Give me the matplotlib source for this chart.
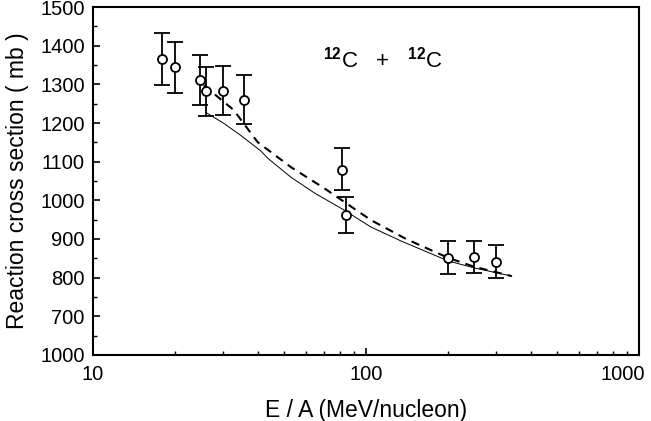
import matplotlib
matplotlib.use("Agg")
import matplotlib.pyplot as plt
import matplotlib.transforms as mtransforms
from matplotlib.ticker import MultipleLocator, FixedLocator, LogLocator, NullFormatter

plt.rcParams["font.family"] = ["Liberation Sans", "DejaVu Sans"]
plt.rcParams["mathtext.fontset"] = "custom"
plt.rcParams["mathtext.rm"] = "Liberation Sans"
plt.rcParams["mathtext.bf"] = "Liberation Sans:bold"

# measured points
energy = [17.9, 19.9, 24.7, 25.8, 29.8, 35.6, 81.7, 84.4, 200, 249, 300]
sigma = [1365, 1345, 1311, 1283, 1283, 1259, 1078, 962, 851, 853, 841]
err_hi = [1432, 1409, 1376, 1345, 1348, 1324, 1135, 1009, 895, 895, 884]
err_lo = [1298, 1277, 1246, 1218, 1220, 1197, 1027, 916, 809, 812, 799]

# model curves
solid_e = [25.8, 30, 34.6, 41.1, 43.6, 53, 65, 83, 104, 134, 200, 249, 341]
solid_s = [1228, 1200, 1169, 1128, 1109, 1060, 1018, 975, 931, 895, 843, 825, 804]
dash_e = [25.4, 32.7, 40, 53, 70, 104, 140, 200, 249, 341]
dash_s = [1298, 1234, 1151, 1086, 1032, 949, 900, 851, 828, 804]

y_ticks = [600, 700, 800, 900, 1000, 1100, 1200, 1300, 1400, 1500]
y_labels = ["1000", "700", "800", "900", "1000", "1100", "1200", "1300", "1400", "1500"]
x_ticks = [10, 100, 1000]
x_labels = ["10", "100", "1000"]

fig = plt.figure(figsize=(6.51, 4.21), dpi=100)
ax = fig.add_axes([0.143, 0.157, 0.839, 0.826])

yerr = [[s - l for s, l in zip(sigma, err_lo)], [h - s for s, h in zip(sigma, err_hi)]]
ax.plot(solid_e, solid_s, "-", color="black", lw=0.7)
ax.plot(dash_e, dash_s, "--", color="black", lw=1.5, dashes=(4, 3))
ax.errorbar(energy, sigma, yerr=yerr, fmt="o", mfc="white", mec="black", mew=1.3,
            ms=6.5, ecolor="black", elinewidth=1.3, capsize=6, capthick=1.3, zorder=3)

ax.set_xscale("log")
ax.set_xlim(10, 1000)
ax.set_ylim(600, 1500)
ax.yaxis.set_major_locator(FixedLocator(y_ticks))
ax.set_yticklabels(y_labels)
ax.yaxis.set_minor_locator(MultipleLocator(50))
ax.xaxis.set_minor_locator(LogLocator(base=10, subs=range(2, 10)))
ax.xaxis.set_minor_formatter(NullFormatter())
ax.set_xticks(x_ticks)
# last label is drawn separately so it stays inside the figure
ax.set_xticklabels(x_labels[:-1] + [""])
trans = mtransforms.blended_transform_factory(ax.transData, ax.transAxes)
ax.annotate(x_labels[-1], xy=(x_ticks[-1], 0), xycoords=trans, xytext=(-12, -7),
            textcoords="offset points", ha="center", va="top", fontsize=14.5)

ax.tick_params(which="both", direction="in", top=False, right=False, labelsize=14.5)
ax.tick_params(which="major", length=5, width=1.2)
ax.tick_params(which="minor", length=3, width=1.0)
ax.tick_params(axis="x", pad=7)
ax.tick_params(axis="y", pad=6)
for s in ax.spines.values():
    s.set_linewidth(1.5)

ax.set_xlabel("E / A (MeV/nucleon)", fontsize=16.5, labelpad=11)
ax.set_ylabel("Reaction cross section ( mb )", fontsize=16.5, labelpad=8)

ax.text(0.53, 0.85, r"$^{\mathbf{12}}$C   +   $^{\mathbf{12}}$C", transform=ax.transAxes,
        ha="center", va="center", fontsize=16)

fig.savefig("out.png", dpi=100)
